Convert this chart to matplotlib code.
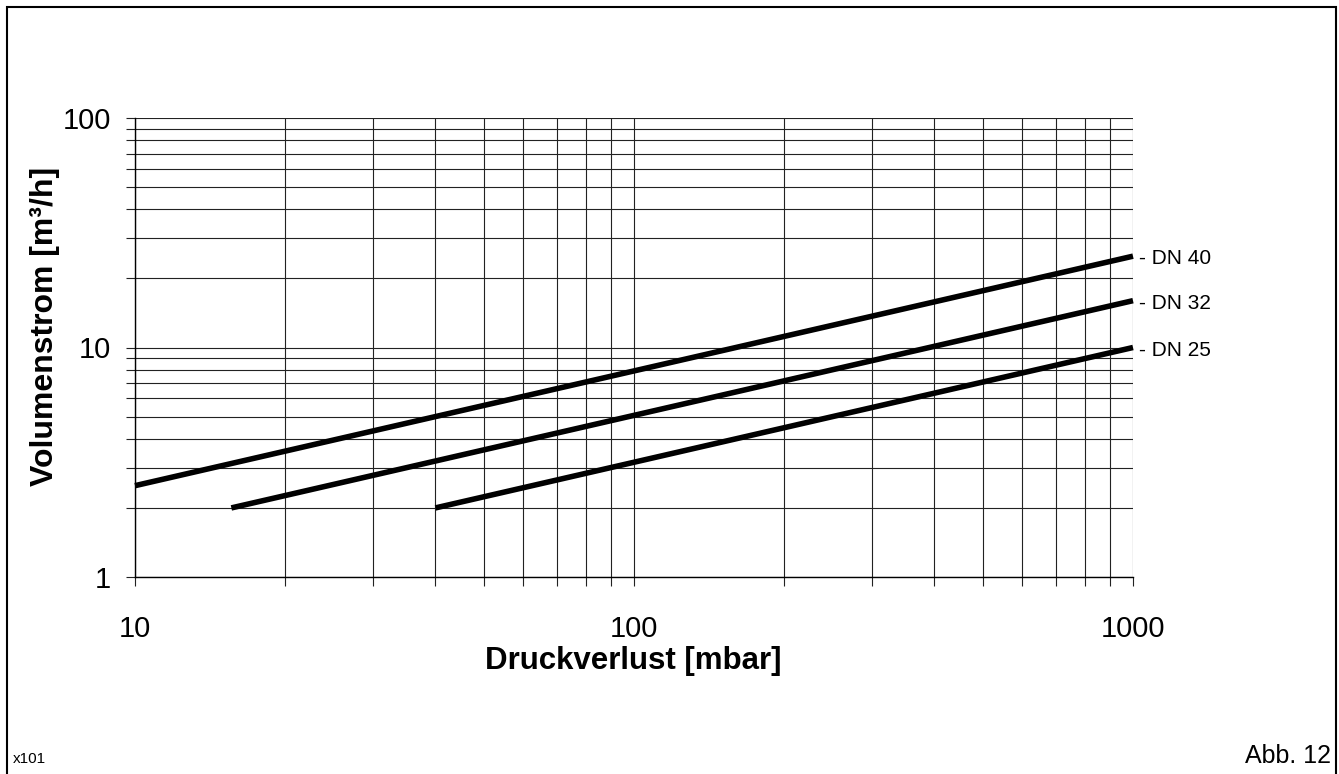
import matplotlib.pyplot as plt
from matplotlib.patches import Rectangle
from matplotlib.ticker import LogLocator, FixedLocator, NullFormatter

plt.rcParams['font.family'] = ['Liberation Sans', 'DejaVu Sans']

# pressure loss [mbar] vs. flow [m3/h], one straight line per pipe size
dn40_x = [10, 1000]
dn40_y = [2.5, 25]
dn32_x = [15.6, 1000]
dn32_y = [2, 16]
dn25_x = [40, 1000]
dn25_y = [2, 10]
names = ["- DN 40", "- DN 32", "- DN 25"]

W, H = 1339, 774
fig = plt.figure(figsize=(W / 100, H / 100), dpi=100)
ax = fig.add_axes([135 / W, 1 - 577 / H, (1133 - 135) / W, (577 - 118) / H])

ax.set_xscale("log")
ax.set_yscale("log")
ax.set_xlim(10, 1000)
ax.set_ylim(1, 100)

# grid on every decade step
ax.xaxis.set_major_locator(FixedLocator([10, 100, 1000]))
ax.yaxis.set_major_locator(FixedLocator([1, 10, 100]))
ax.xaxis.set_minor_locator(LogLocator(base=10, subs=range(2, 10)))
ax.yaxis.set_minor_locator(LogLocator(base=10, subs=range(2, 10)))
ax.xaxis.set_minor_formatter(NullFormatter())
ax.yaxis.set_minor_formatter(NullFormatter())
ax.set_xticklabels(["10", "100", "1000"])
ax.set_yticklabels(["1", "10", "100"])
ax.grid(True, which="both", color="#222222", lw=0.8)
ax.set_axisbelow(True)

for s in ["top", "right"]:
    ax.spines[s].set_visible(False)
ax.spines["left"].set_linewidth(1.0)
ax.spines["bottom"].set_linewidth(1.0)

ax.tick_params(which="both", direction="out", length=6.5, width=0.8, color="#222222")
ax.tick_params(axis="x", which="major", labelsize=21, pad=21)
ax.tick_params(axis="y", which="major", labelsize=21, pad=11)

lines = [(dn40_x, dn40_y), (dn32_x, dn32_y), (dn25_x, dn25_y)]
for (xs, ys), nm in zip(lines, names):
    ax.plot(xs, ys, color="black", lw=4, solid_capstyle="butt", clip_on=False)
    ax.annotate(nm, (xs[-1], ys[-1]), xytext=(4, -2), textcoords="offset points",
                ha="left", va="center", fontsize=15, annotation_clip=False)

fig.text(633 / W, 1 - 661 / H, "Druckverlust [mbar]", ha="center", va="center",
         fontsize=22.5, fontweight="bold")
fig.text(45 / W, 1 - 326 / H, "Volumenstrom [m³/h]", ha="center", va="center",
         rotation=90, fontsize=23, fontweight="bold")

fig.text(13 / W, 1 - 763 / H, "x101", ha="left", va="baseline", fontsize=11)
fig.text(1331 / W, 1 - 763 / H, "Abb. 12", ha="right", va="baseline", fontsize=18)

# frame around the whole drawing
fig.patches.append(Rectangle((7 / W, -0.01), (1336 - 7) / W, 1 - 7 / H + 0.01,
                             transform=fig.transFigure, fill=False,
                             edgecolor="black", lw=1.5))

fig.savefig("out.png", dpi=100)
